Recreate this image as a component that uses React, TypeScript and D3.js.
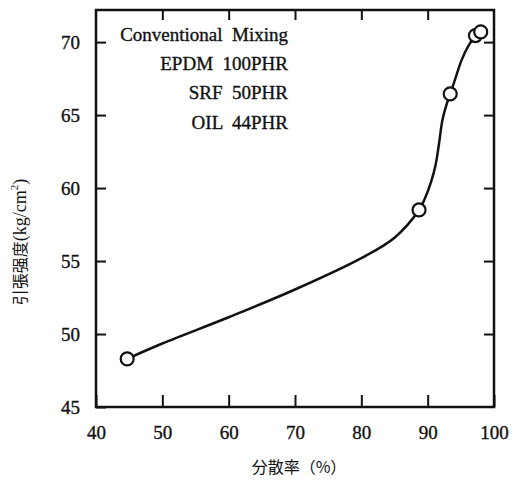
import React, { useEffect, useRef } from 'react';
import * as d3 from 'd3';

// measured points (分散率 %, 引張强度 kg/cm2)
const dispersion = [44.7, 88.7, 93.4, 97.2, 98.0];
const strength = [48.3, 58.5, 66.45, 70.45, 70.7];

// hand drawn curve through the points
const curveX = [44.7, 50, 60, 70, 80, 85, 88.7, 89.6, 90.5, 91.2, 91.7, 92.2, 92.9, 93.4, 94.1, 95.1, 96.1, 97.2, 98.0];
const curveY = [48.3, 49.35, 51.15, 53.05, 55.2, 56.6, 58.5, 59.3, 60.4, 61.6, 63.0, 64.6, 65.8, 66.45, 67.4, 68.75, 69.7, 70.45, 70.7];

const xTicks = [40, 50, 60, 70, 80, 90, 100];
const yTicks = [45, 50, 55, 60, 65, 70];

const noteLines = ['Conventional  Mixing', 'EPDM  100PHR', 'SRF  50PHR', 'OIL  44PHR'];

const xTitle = '分散率（%）';
const yTitleCjk = '引張强度';
const yTitleUnit = '(kg/cm';
const yTitleSup = '2';

const App = () => {
  const ref = useRef<SVGSVGElement>(null);

  useEffect(() => {
    const svg = d3.select(ref.current);
    svg.selectAll('*').remove();

    const width = 513;
    const height = 481;
    const left = 96, right = 494, top = 10, bottom = 407;

    const x = d3.scaleLinear().domain([40, 100]).range([left, right]);
    const y = d3.scaleLinear().domain([45, 72.2]).range([bottom, top]);

    const serif = '"Liberation Serif", "DejaVu Serif", serif';
    const cjk = '"Noto Sans CJK JP", "Noto Sans CJK SC", sans-serif';
    const ink = '#111';

    svg.attr('width', width).attr('height', height);

    // inward ticks on all four sides
    const bottomAxis = svg.append('g')
      .attr('transform', `translate(0,${bottom})`)
      .call(d3.axisBottom(x).tickValues(xTicks).tickSizeInner(-12).tickSizeOuter(0).tickPadding(19));
    const leftAxis = svg.append('g')
      .attr('transform', `translate(${left},0)`)
      .call(d3.axisLeft(y).tickValues(yTicks).tickSizeInner(-10).tickSizeOuter(0).tickPadding(16));
    const topAxis = svg.append('g')
      .attr('transform', `translate(0,${top})`)
      .call(d3.axisTop(x).tickValues(xTicks.slice(1, -1)).tickSizeInner(-10).tickSizeOuter(0).tickFormat(() => ''));
    const rightAxis = svg.append('g')
      .attr('transform', `translate(${right},0)`)
      .call(d3.axisRight(y).tickValues(yTicks.slice(1)).tickSizeInner(-10).tickSizeOuter(0).tickFormat(() => ''));

    [bottomAxis, leftAxis, topAxis, rightAxis].forEach(g => {
      g.select('.domain').remove();
      g.selectAll('line').attr('stroke', ink).attr('stroke-width', 2);
      g.selectAll('text')
        .attr('fill', ink)
        .attr('stroke', ink)
        .attr('stroke-width', 0.35)
        .style('font-family', serif)
        .style('font-size', '19px');
    });

    // frame
    svg.append('rect')
      .attr('x', left).attr('y', top)
      .attr('width', right - left).attr('height', bottom - top)
      .attr('fill', 'none').attr('stroke', ink).attr('stroke-width', 2.5);

    // curve
    const pts = curveX.map((v, i) => [v, curveY[i]] as [number, number]);
    const line = d3.line<[number, number]>()
      .x(d => x(d[0]))
      .y(d => y(d[1]))
      .curve(d3.curveCatmullRom.alpha(0.5));
    svg.append('path')
      .datum(pts)
      .attr('d', line)
      .attr('fill', 'none')
      .attr('stroke', ink)
      .attr('stroke-width', 2.5);

    // markers
    svg.selectAll('.pt')
      .data(dispersion.map((v, i) => [v, strength[i]]))
      .enter()
      .append('circle')
      .attr('class', 'pt')
      .attr('cx', d => x(d[0]))
      .attr('cy', d => y(d[1]))
      .attr('r', 6.5)
      .attr('fill', '#fff')
      .attr('stroke', ink)
      .attr('stroke-width', 2.2);

    // annotation block
    svg.selectAll('.note')
      .data(noteLines)
      .enter()
      .append('text')
      .attr('class', 'note')
      .attr('x', 288)
      .attr('y', (d, i) => [41, 70, 98.5, 128.5][i])
      .attr('text-anchor', 'end')
      .style('white-space', 'pre')
      .style('font-family', serif)
      .style('font-size', '19px')
      .attr('fill', ink)
      .attr('stroke', ink)
      .attr('stroke-width', 0.35)
      .text(d => d);

    // axis titles
    svg.append('text')
      .attr('x', 299).attr('y', 473)
      .attr('text-anchor', 'middle')
      .style('font-family', cjk)
      .style('font-size', '16px')
      .attr('fill', ink)
      .text(xTitle);

    const yt = svg.append('text')
      .attr('transform', 'translate(26,242) rotate(-90)')
      .attr('text-anchor', 'middle')
      .attr('fill', ink);
    yt.append('tspan').style('font-family', cjk).style('font-size', '16px').text(yTitleCjk);
    yt.append('tspan').style('font-family', serif).style('font-size', '18px').text(yTitleUnit);
    yt.append('tspan').style('font-family', serif).style('font-size', '11px').attr('dy', -8).text(yTitleSup);
    yt.append('tspan').style('font-family', serif).style('font-size', '18px').attr('dy', 8).text(')');
  }, []);

  return <svg ref={ref} style={{ position: 'absolute', left: 0, top: 0, background: '#fff' }} />;
};

export default App;
